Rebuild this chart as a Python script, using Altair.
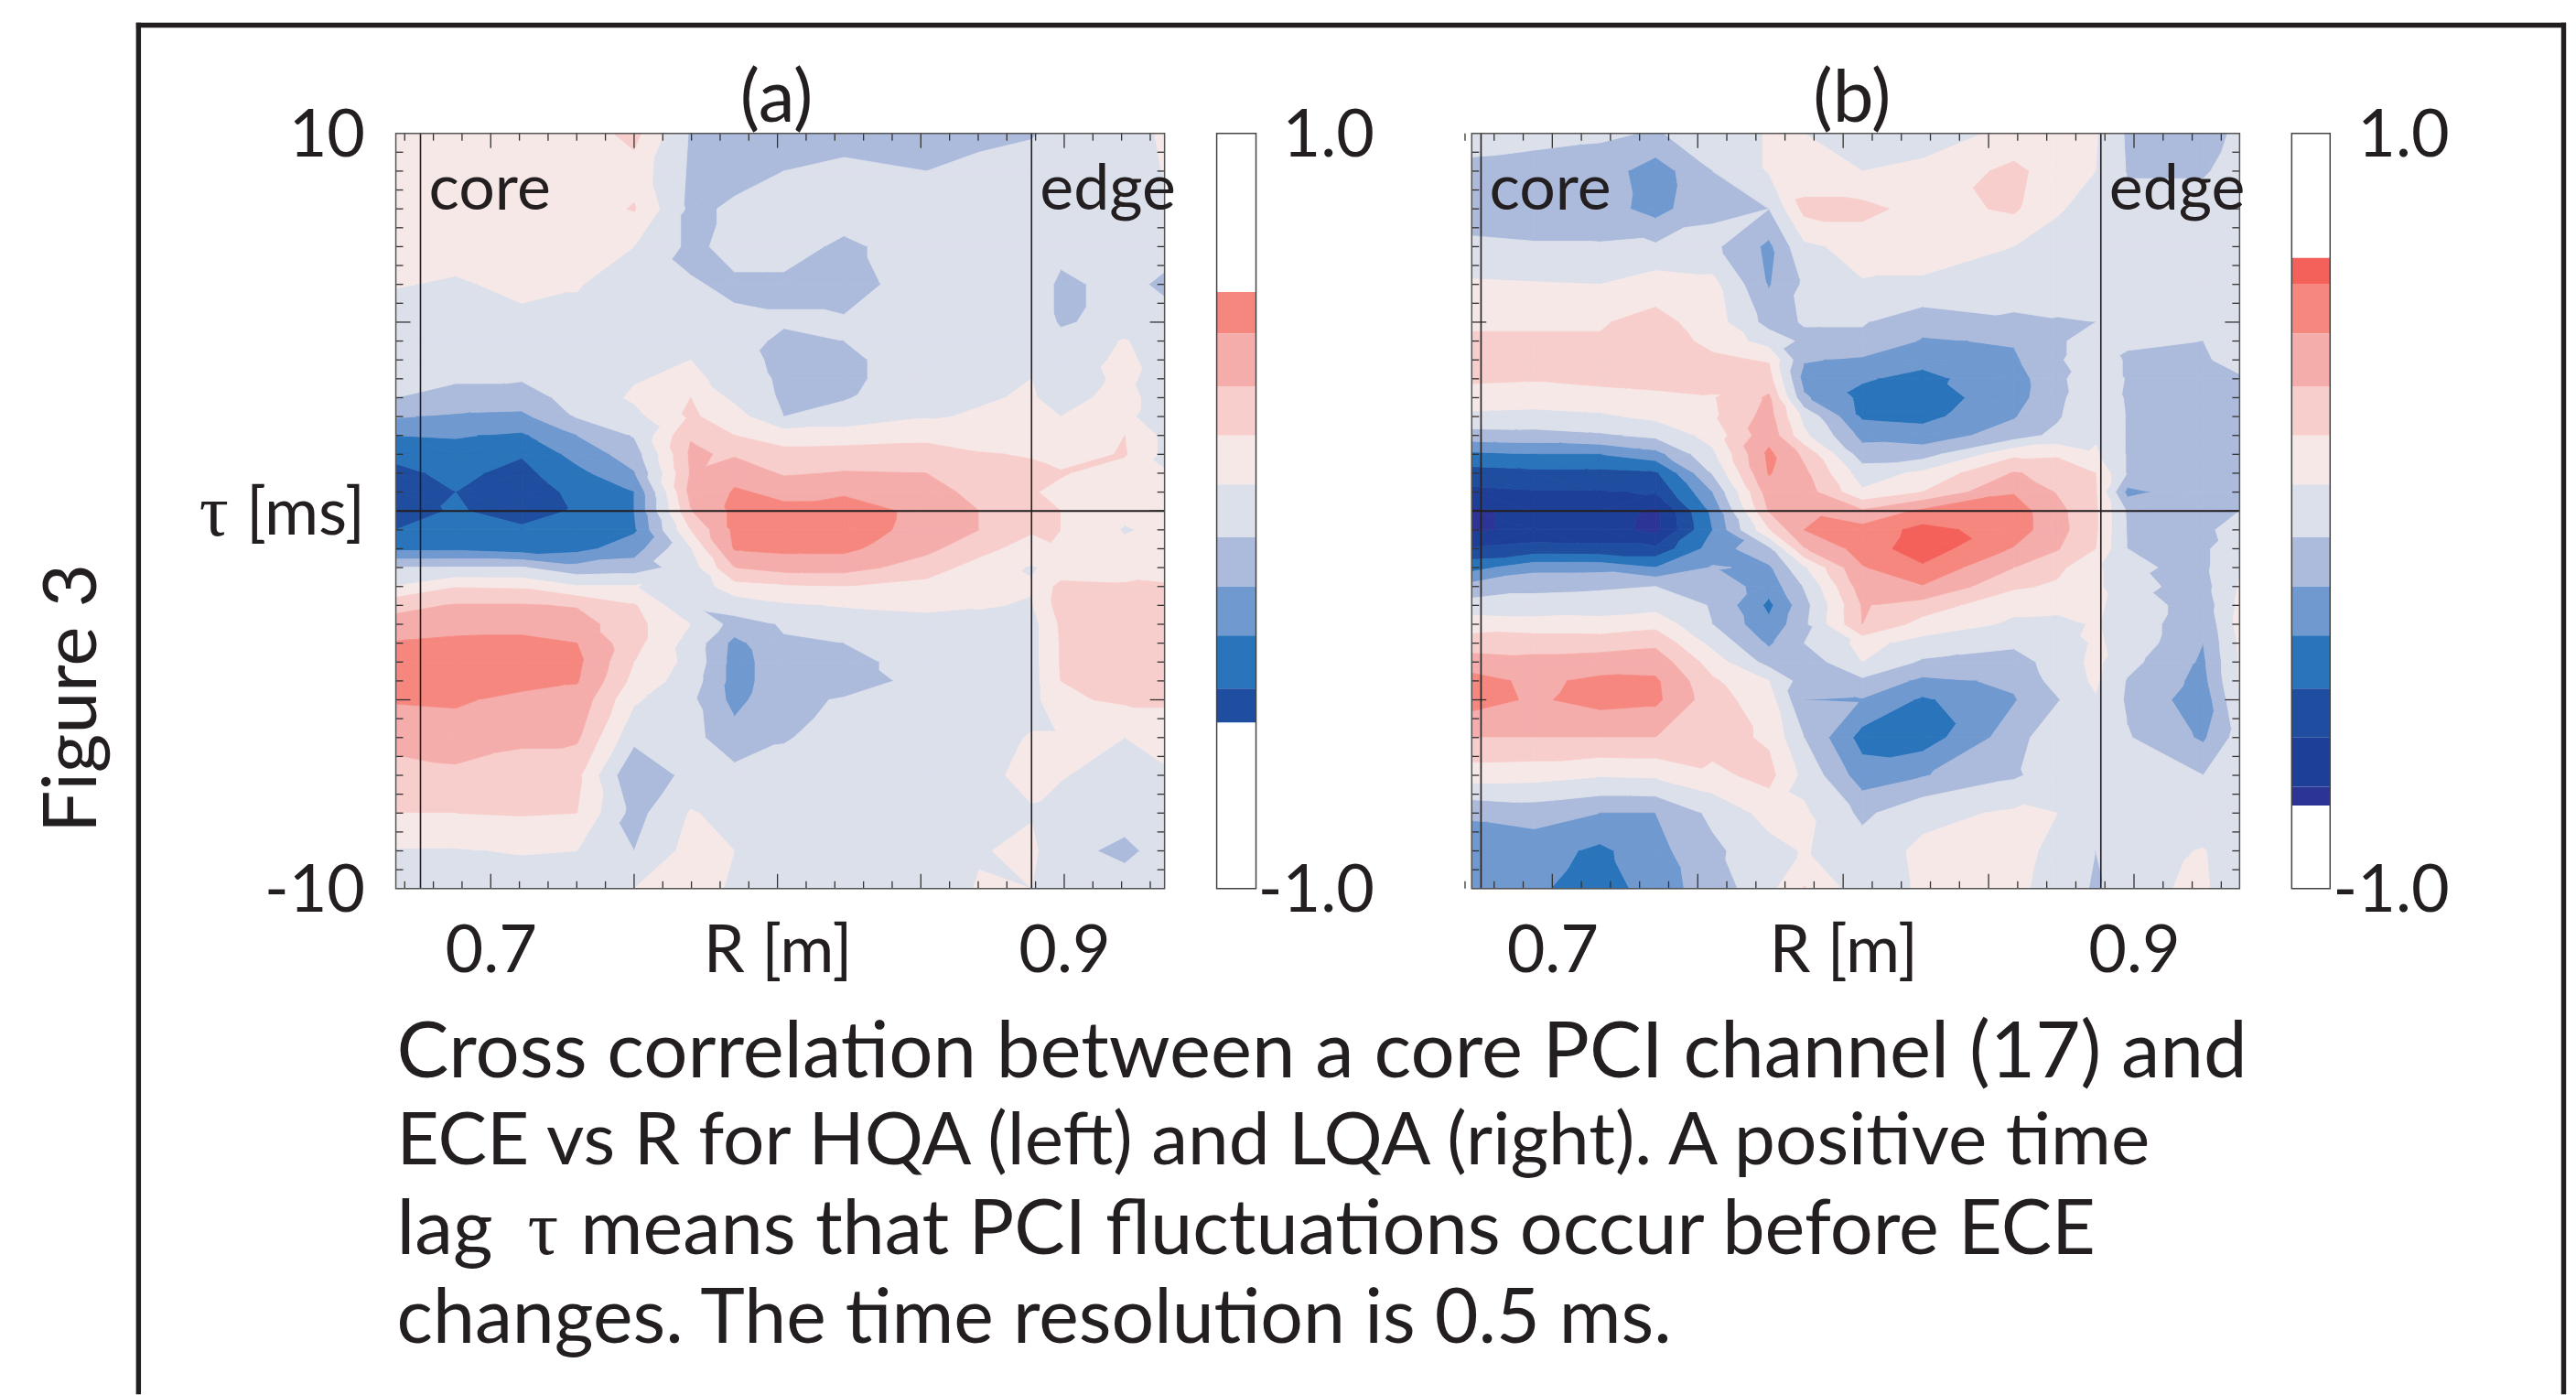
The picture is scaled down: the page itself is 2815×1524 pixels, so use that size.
import altair as alt
import pandas as pd

# Correlation values, in hundredths, rows from tau=+10 to tau=-10
TAU = [10, 9, 8, 7, 6, 5, 4.5, 4, 3.5, 3, 2.5, 2, 1.5, 1, 0.5, 0, -0.5, -1, -1.5, -2, -2.5, -3, -3.5, -4, -4.5, -5, -6, -7, -8, -9, -10]

R_A = [0.6669, 0.6878, 0.7108, 0.7301, 0.7500, 0.7697, 0.7850, 0.8022, 0.8232, 0.8520, 0.8703, 0.8886, 0.8988, 0.9211, 0.9350]
Z_A = [
    [12, 13, 13, 13, 24, -8, -12, -12, -14, -12, -10, -8, -4, -2, 10],
    [12, 13, 13, 13, 15, -9, -11, -7, -3, -7, -4, -2, -2, -6, 8],
    [13, 13, 13, 13, 21, -10, -5, -2, -2, -2, -2, -2, -5, -6, -3],
    [14, 14, 13, 11, 7, -10, -3, -3, -9, -2, -1, -1, -4, -5, -3],
    [8, 5, 11, 8, -1, -6, -9, -9, -11, -2, 0, -1, -9, -4, -9],
    [-2, -1, 3, 3, -1, -3, -5, -6, -6, -3, 3, 5, -9, -1, -3],
    [-2, -1, -1, -1, 0, 0, -3, -9, -7, -3, 0, 4, -2, 8, -1],
    [-3, -3, -1, -1, 1, 7, -1, -11, -9, -2, 1, 7, -1, 10, 1],
    [-5, -6, -6, -2, 6, 10, 2, -10, -9, -2, 2, 7, 2, 9, 3],
    [-7, -10, -13, -2, 9, 20, 4, -9, -8, 2, 6, 8, 3, 11, 1],
    [-19, -22, -23, -6, 3, 22, 13, -7, -2, 6, 8, 9, 7, 11, -3],
    [-33, -32, -35, -20, -6, 32, 20, 14, 14, 16, 13, 12, 12, 20, 4],
    [-44, -38, -46, -28, -14, 35, 31, 24, 25, 26, 21, 19, 15, 21, 4],
    [-50, -44, -51, -37, -21, 34, 44, 31, 34, 33, 27, 23, 21, 14, 8],
    [-53, -47, -58, -42, -33, 37, 48, 45, 45, 37, 30, 21, 17, 12, 8],
    [-55, -45, -55, -45, -33, 32, 50, 49, 54, 43, 33, 22, 20, 10, 8],
    [-47, -42, -44, -40, -35, 20, 50, 53, 54, 42, 33, 22, 20, 6, 10],
    [-36, -36, -40, -37, -26, 6, 48, 50, 50, 36, 25, 13, 19, 10, 10],
    [-7, -6, -6, -16, -14, 0, 33, 38, 38, 27, 14, 6, 11, 12, 16],
    [8, 19, 18, 8, 8, -3, 15, 18, 20, 15, 11, 8, 24, 22, 21],
    [29, 34, 34, 32, 21, -5, -1, 5, 8, 10, 8, 6, 26, 25, 24],
    [38, 42, 43, 39, 24, 7, -12, -6, -3, 2, 3, 2, 22, 25, 25],
    [48, 50, 50, 47, 24, 2, -24, -8, -7, -1, 1, 2, 21, 25, 25],
    [50, 52, 52, 50, 20, 3, -25, -13, -10, -3, 0, 2, 21, 25, 30],
    [51, 53, 52, 48, 16, 0, -25, -13, -13, -3, 0, 2, 20, 25, 28],
    [48, 49, 43, 42, 9, -4, -24, -10, -6, -2, 0, 2, 18, 22, 22],
    [39, 40, 35, 35, -3, -3, -15, -8, -2, -1, 1, 8, 8, 7, 12],
    [26, 30, 28, 23, -20, -2, -3, -2, -1, -1, 4, 10, 9, -6, 5],
    [20, 20, 21, 20, -12, 8, 3, -1, -1, -1, 1, 6, -3, -2, -3],
    [6, 6, 8, 7, -7, 12, 7, -1, -1, -1, 6, 10, -3, -10, -2],
    [-1, -1, -1, -1, 7, 10, 6, -1, -1, -1, 8, 7, -2, -1, -1],
]

R_B = [0.6723, 0.6938, 0.7164, 0.7355, 0.7551, 0.7745, 0.7866, 0.8066, 0.8273, 0.8587, 0.8737, 0.8868, 0.8978, 0.9238, 0.9363]
Z_B = [
    [-2, -3, -5, -8, -1, 8, 7, 2, 3, 9, 10, 8, -9, -9, -6],
    [-10, -12, -13, -27, -7, 8, 11, 7, 9, 24, 12, 7, -8, -8, -3],
    [-12, -13, -14, -25, -9, -7, 24, 24, 15, 22, 8, 3, -3, -3, -1],
    [-5, -6, -6, -5, -4, -23, 4, 12, 10, 7, 3, 0, -1, -2, 7],
    [9, 8, 7, 14, 11, -21, -5, 6, 6, 1, -1, -2, -2, -3, -2],
    [19, 19, 19, 24, 14, -12, -6, -6, -16, -10, -8, -7, -5, -5, -3],
    [21, 21, 21, 26, 17, 1, -10, -10, -21, -19, -8, -4, -6, -7, -3],
    [24, 25, 26, 33, 22, 19, -19, -22, -30, -22, -8, -2, -8, -8, -4],
    [22, 21, 24, 26, 24, 25, -25, -32, -36, -26, -10, 2, -8, -9, -8],
    [14, 13, 14, 16, 19, 35, -18, -36, -40, -25, -11, 6, -9, -10, -9],
    [4, 3, 5, 10, 18, 38, 3, -35, -37, -21, -9, 7, -8, -10, -9],
    [-13, -12, -9, -4, 12, 42, 10, -24, -27, -14, -3, 5, -8, -10, -8],
    [-36, -33, -33, -25, 4, 50, 30, -14, -13, 17, 18, 9, -8, -10, -8],
    [-53, -51, -51, -49, -6, 48, 36, 0, 10, 34, 29, 20, -8, -10, -8],
    [-63, -61, -61, -59, -20, 40, 40, 9, 20, 46, 32, 21, -24, -11, -9],
    [-76, -68, -65, -76, -30, 34, 45, 35, 50, 54, 37, 22, -9, -11, -7],
    [-76, -68, -67, -77, -33, 19, 47, 52, 64, 54, 38, 22, -8, -9, -3],
    [-59, -56, -57, -57, -27, -10, 32, 53, 67, 46, 34, 20, -7, -10, 5],
    [-38, -24, -24, -33, -19, -22, 5, 46, 58, 33, 23, 10, -5, -10, 6],
    [-15, -10, -9, -7, -9, -28, -6, 40, 46, 22, 18, 10, -3, -12, 8],
    [-2, -2, 0, 2, -8, -36, -12, 34, 27, 10, 10, 9, 2, -15, 10],
    [15, 13, 12, 16, -7, -30, -10, 33, 15, 5, 4, 8, 2, -18, 12],
    [25, 27, 27, 30, 3, -22, -7, 11, 2, -4, -2, 9, 2, -20, 9],
    [40, 37, 39, 41, 14, -12, -16, 7, -9, -14, 0, 10, -3, -22, 8],
    [52, 44, 50, 49, 22, 7, -14, -10, -23, -18, -2, 9, -8, -24, 8],
    [53, 45, 52, 50, 25, 13, -20, -21, -35, -21, -8, 6, -9, -28, 5],
    [33, 33, 33, 33, 25, 18, -7, -38, -40, -13, 3, 7, -6, -22, -1],
    [13, 12, 8, 9, 17, 24, 3, -27, -21, -9, 0, 6, -7, -7, -1],
    [-18, -15, -20, -20, -4, 12, 9, -10, 3, 9, 7, -2, -3, -5, -6],
    [-28, -27, -36, -24, -10, 2, 8, -1, 10, 12, 3, -7, 0, 8, -4],
    [-27, -30, -42, -25, -15, 3, 21, -1, 9, 10, 2, -9, 4, 9, -2],
]

LEVELS = [-100, -73, -60, -47, -33, -20, -7, 7, 20, 33, 47, 60, 73, 100]
COLORS = ["#2C3596", "#1E3F98", "#1F4DA0", "#2974BB", "#7099D0", "#ACBBDC", "#DCE0EB",
          "#F6E8E7", "#F7CECC", "#F5ADAB", "#F6877F", "#F4605A", "#F4605A"]
BAND_IDS = list(range(len(COLORS)))

BAR_A = [100, 58, 47, 33, 20, 7, -7, -20, -33, -47, -56, -100]
BAR_A_BANDS = [None, 10, 9, 8, 7, 6, 5, 4, 3, 2, None]
BAR_B = [100, 67, 60, 47, 33, 20, 7, -7, -20, -33, -47, -60, -73, -78, -100]
BAR_B_BANDS = [None, 11, 10, 9, 8, 7, 6, 5, 4, 3, 2, 1, 0, None]

R_MAJOR = [0.70, 0.75, 0.80, 0.85, 0.90]
R_MINOR = [0.67, 0.68, 0.69, 0.71, 0.72, 0.73, 0.74, 0.76, 0.77, 0.78, 0.79, 0.81, 0.82, 0.83, 0.84, 0.86, 0.87, 0.88, 0.89, 0.91, 0.92, 0.93]
TAU_MAJOR = [-5, 0, 5]
TAU_MINOR = [v / 2 for v in range(-19, 20) if v % 10 != 0]

CORE_R = 0.6755
EDGE_R = 0.8886
CAPTION = [
    "Cross correlation between a core PCI channel (17) and",
    "ECE vs R for HQA (left) and LQA (right). A positive time",
    "lag",
    "means that PCI fluctuations occur before ECE",
    "changes. The time resolution is 0.5 ms.",
]
TAU_SYMBOL = "\u03c4"

FONT = "Lato"
SERIF = "Liberation Serif"
INK = "#231F20"
PW, PH = 841, 826
BW = 43
LABEL = 72


def clip(poly, level, keep_above):
    out = []
    n = len(poly)
    for i in range(n):
        a, b = poly[i], poly[(i + 1) % n]
        ina = a[2] >= level if keep_above else a[2] <= level
        inb = b[2] >= level if keep_above else b[2] <= level
        if ina:
            out.append(a)
        if ina != inb:
            t = (level - a[2]) / (b[2] - a[2])
            out.append((a[0] + t * (b[0] - a[0]), a[1] + t * (b[1] - a[1]), level))
    return out


def band_rows(rs, zs, prefix):
    rows = []
    pid = 0

    def emit(shape, band):
        nonlocal pid
        pid += 1
        for k, p in enumerate(shape):
            rows.append({"r": round(p[0], 5), "t": round(p[1], 4), "band": band, "poly": f"{prefix}{pid}", "k": k})

    for j in range(len(TAU) - 1):
        for i in range(len(rs) - 1):
            a = (rs[i], TAU[j], zs[j][i])
            b = (rs[i + 1], TAU[j], zs[j][i + 1])
            c = (rs[i + 1], TAU[j + 1], zs[j + 1][i + 1])
            d = (rs[i], TAU[j + 1], zs[j + 1][i])
            zmin, zmax = min(p[2] for p in (a, b, c, d)), max(p[2] for p in (a, b, c, d))
            hit = [n for n in BAND_IDS if LEVELS[n] < zmax and LEVELS[n + 1] > zmin]
            if len(hit) == 1:
                emit([a, b, c, d], hit[0])
                continue
            if abs(a[2] - c[2]) <= abs(b[2] - d[2]):
                tris = [[a, b, c], [a, c, d]]
            else:
                tris = [[a, b, d], [b, c, d]]
            for tri in tris:
                for n in hit:
                    shape = clip(clip(tri, LEVELS[n], True), LEVELS[n + 1], False)
                    if len(shape) >= 3:
                        emit(shape, n)
    return pd.DataFrame(rows)


band_scale = alt.Scale(domain=BAND_IDS, range=COLORS)


def panel(rs, zs, dom, name, width, ylabels):
    df = band_rows(rs, zs, name)
    xs = alt.Scale(domain=dom, nice=False, zero=False)
    ys = alt.Scale(domain=[-10, 10], nice=False, zero=False)
    x_axis = alt.Axis(values=R_MAJOR, labelExpr="datum.value==0.7?'0.7':datum.value==0.8?'R [m]':datum.value==0.9?'0.9':''",
                      ticks=False, domain=False, grid=False, title=None, labelFont=FONT, labelFontSize=LABEL,
                      labelColor=INK, labelPadding=34, labelAngle=0, labelOverlap=False)
    if ylabels:
        y_axis = alt.Axis(values=[-10, 0, 10], labelExpr="datum.value==10?'10':datum.value==-10?'-10':'[ms]'",
                          ticks=False, domain=False, grid=False, title=None, labelFont=FONT, labelFontSize=LABEL,
                          labelColor=INK, labelPadding=34, labelOffset=3, labelOverlap=False, labelBound=False, labelFlush=False)
    else:
        y_axis = None

    fills = alt.Chart(df).mark_line(interpolate="linear-closed", strokeWidth=0.8).encode(
        x=alt.X("r:Q", scale=xs, axis=x_axis),
        y=alt.Y("t:Q", scale=ys, axis=y_axis),
        fill=alt.Fill("band:N", scale=band_scale, legend=None),
        stroke=alt.Stroke("band:N", scale=band_scale, legend=None),
        detail="poly:N",
        order="k:Q",
    )

    def vticks(vals, ln):
        d = alt.Data(values=[{"v": v} for v in vals])
        return [
            alt.Chart(d).mark_rule(color="#333333", strokeWidth=1.3).encode(
                x=alt.X("v:Q", scale=xs), y=alt.value(0), y2=alt.value(ln)),
            alt.Chart(d).mark_rule(color="#333333", strokeWidth=1.3).encode(
                x=alt.X("v:Q", scale=xs), y=alt.value(PH - ln), y2=alt.value(PH)),
        ]

    def hticks(vals, ln):
        d = alt.Data(values=[{"v": v} for v in vals])
        return [
            alt.Chart(d).mark_rule(color="#333333", strokeWidth=1.3).encode(
                y=alt.Y("v:Q", scale=ys), x=alt.value(0), x2=alt.value(ln)),
            alt.Chart(d).mark_rule(color="#333333", strokeWidth=1.3).encode(
                y=alt.Y("v:Q", scale=ys), x=alt.value(width - ln), x2=alt.value(width)),
        ]

    lines_v = alt.Chart(alt.Data(values=[{"v": CORE_R}, {"v": EDGE_R}])).mark_rule(color=INK, strokeWidth=1.6).encode(
        x=alt.X("v:Q", scale=xs))
    line_h = alt.Chart(alt.Data(values=[{"v": 0}])).mark_rule(color=INK, strokeWidth=2).encode(
        y=alt.Y("v:Q", scale=ys))
    box = alt.Chart(alt.Data(values=[{"v": 0}])).mark_rect(fill=None, stroke="#555555", strokeWidth=1.5).encode(
        x=alt.value(0), x2=alt.value(width), y=alt.value(0), y2=alt.value(PH))
    labels = alt.Chart(alt.Data(values=[
        {"r": CORE_R, "t": 8.5, "s": "core"},
        {"r": EDGE_R, "t": 8.5, "s": "edge"},
    ])).mark_text(font=FONT, fontSize=70, color=INK, align="left", baseline="middle", dx=9).encode(
        x=alt.X("r:Q", scale=xs), y=alt.Y("t:Q", scale=ys), text="s:N")
    title = alt.Chart(alt.Data(values=[{"s": f"({name})"}])).mark_text(
        font=FONT, fontSize=80, color=INK, align="center", baseline="middle").encode(
        x=alt.value(width / 2 - 4), y=alt.value(-37), text="s:N")
    layers = [fills, *vticks(R_MINOR, 8), *vticks(R_MAJOR, 16), *hticks(TAU_MINOR, 8), *hticks(TAU_MAJOR, 16),
              lines_v, line_h, box, labels, title]
    if ylabels:
        layers.append(alt.Chart(alt.Data(values=[{"s": TAU_SYMBOL}])).mark_text(
            font=SERIF, fontSize=80, color=INK, align="center", baseline="middle").encode(
            x=alt.value(-199), y=alt.value(PH / 2 + 3), text="s:N"))
    return alt.layer(*layers).properties(width=width, height=PH)


def colorbar(edges, ids, width, pad):
    rows = [{"hi": edges[i] / 100, "lo": edges[i + 1] / 100, "band": ids[i]} for i in range(len(ids)) if ids[i] is not None]
    ys = alt.Scale(domain=[-1, 1], nice=False, zero=False)
    rects = alt.Chart(alt.Data(values=rows)).mark_rect().encode(
        x=alt.value(0), x2=alt.value(width),
        y=alt.Y("hi:Q", scale=ys, axis=alt.Axis(values=[-1, 1], labelExpr="datum.value==1?'1.0':'-1.0'", orient="right", ticks=False, domain=False,
                                                grid=False, title=None, labelFont=FONT, labelFontSize=LABEL, labelColor=INK,
                                                labelAlign="right", labelPadding=pad, labelOffset=3, labelOverlap=False)),
        y2="lo:Q",
        fill=alt.Fill("band:N", scale=band_scale, legend=None),
    )
    box = alt.Chart(alt.Data(values=[{"v": 0}])).mark_rect(fill=None, stroke="#444444", strokeWidth=1.5).encode(
        x=alt.value(0), x2=alt.value(width), y=alt.value(0), y2=alt.value(PH))
    return alt.layer(rects, box).properties(width=width, height=PH)


def spacer(w, h):
    return alt.Chart(alt.Data(values=[{"v": 0}])).mark_rect(opacity=0).encode(
        x=alt.value(0), x2=alt.value(w), y=alt.value(0), y2=alt.value(h)).properties(width=w, height=h)


OX, OY = 8, 8


def frame_rule(x1, y1, x2, y2):
    return alt.Chart(alt.Data(values=[{"v": 0}])).mark_rule(color=INK, strokeWidth=5.4).encode(
        x=alt.value(x1 - OX), x2=alt.value(x2 - OX), y=alt.value(y1 - OY), y2=alt.value(y2 - OY))


def text_at(s, x, y, size, font=FONT):
    return alt.Chart(alt.Data(values=[{"s": s}])).mark_text(font=font, fontSize=size, color=INK, align="left", baseline="alphabetic").encode(
        x=alt.value(x - OX), y=alt.value(y - OY), text="s:N")


caps = [
    text_at(CAPTION[0], 434, 1177, 85.3),
    text_at(CAPTION[1], 434, 1273, 80.2),
    text_at(CAPTION[2], 434, 1371, 84),
    text_at(TAU_SYMBOL, 577, 1371, 84, SERIF),
    text_at(CAPTION[3], 635, 1371, 83),
    text_at(CAPTION[4], 434, 1468, 82.5),
]
fig = alt.Chart(alt.Data(values=[{"s": "Figure 3"}])).mark_text(font=FONT, fontSize=82, color=INK, angle=270, align="center", baseline="middle").encode(
    x=alt.value(80 - OX), y=alt.value(763 - OY), text="s:N")

top = alt.layer(
    frame_rule(149, 26.7, 2807, 26.7),
    frame_rule(151.5, 24, 151.5, 1524),
    frame_rule(2804.5, 24, 2804.5, 1524),
    fig, *caps,
).properties(width=2800, height=137)

row = alt.hconcat(
    spacer(425, PH),
    panel(R_A, Z_A, [0.6669, 0.9350], "a", 841, True),
    spacer(57, PH),
    colorbar(BAR_A, BAR_A_BANDS, 43, 129),
    spacer(236, PH),
    panel(R_B, Z_B, [0.6723, 0.9363], "b", 840, False),
    spacer(57, PH),
    colorbar(BAR_B, BAR_B_BANDS, 42, 130),
    spacing=0, bounds="flush",
)

chart = alt.vconcat(top, row, spacing=0, bounds="flush").properties(padding=0, background="white").configure_view(stroke=None)
chart.save("out.html", embed_options={"renderer": "svg", "actions": False})
